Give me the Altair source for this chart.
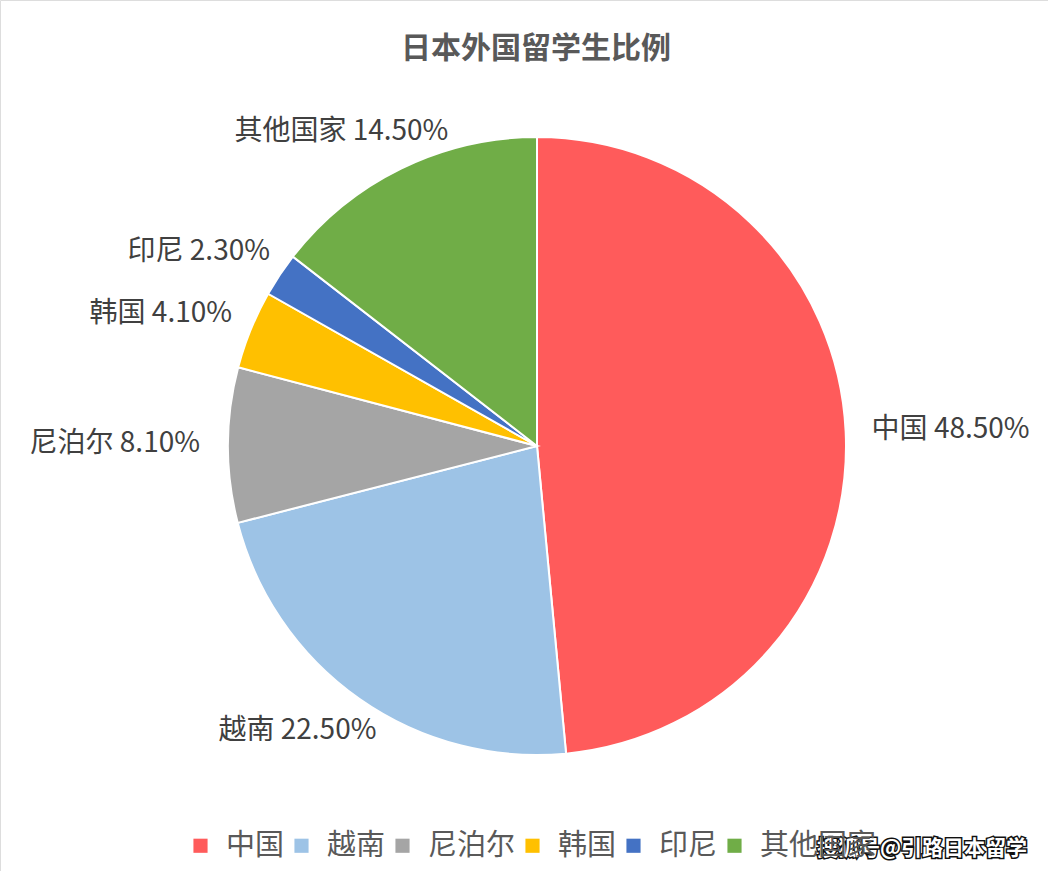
import altair as alt
import pandas as pd

categories = ["中国", "越南", "尼泊尔", "韩国", "印尼", "其他国家"]
values = [48.5, 22.5, 8.1, 4.1, 2.3, 14.5]
colors = ["#FF5B5B", "#9DC3E6", "#A5A5A5", "#FFC000", "#4472C4", "#70AD47"]

title_text = "日本外国留学生比例"
watermark = "搜狐号@引路日本留学"

df = pd.DataFrame({"cat": categories, "value": values, "order": list(range(len(categories)))})

FONT = "Noto Sans CJK SC"
CX, CY, R = 537, 446, 309
LABEL_R = 340

# label style: align, dx, dy
label_style = {
    "中国": ("left", -5, 0),
    "越南": ("right", 35, 7),
    "尼泊尔": ("right", 3, -1),
    "韩国": ("right", 10, -4),
    "印尼": ("right", 16, -6),
    "其他国家": ("right", 61, -9),
}

theta_scale = alt.Scale(domain=[0, 100])
color_scale = alt.Scale(domain=categories, range=colors)

base = alt.Chart(df)

pie = base.mark_arc(outerRadius=R, stroke="white", strokeWidth=2).encode(
    theta=alt.Theta("value:Q", stack=True, scale=theta_scale),
    order=alt.Order("order:Q"),
    color=alt.Color(
        "cat:N",
        scale=color_scale,
        sort=categories,
        legend=alt.Legend(
            title=None,
            orient="none",
            direction="horizontal",
            columns=6,
            legendX=186,
            legendY=831,
            symbolType="square",
            symbolSize=200,
            symbolStrokeWidth=0,
            labelFontSize=29,
            labelFont=FONT,
            labelColor="#595959",
            labelOffset=11,
            columnPadding=2,
            labelLimit=300,
        ),
    ),
    x=alt.value(CX),
    y=alt.value(CY),
)

label_base = (
    base.transform_window(cum="sum(value)", sort=[alt.SortField("order")], frame=[None, 0])
    .transform_calculate(
        mid="datum.cum - datum.value / 2",
        label="datum.cat + ' ' + format(datum.value, '.2f') + '%'",
    )
)

layers = [pie]
for cat in categories:
    align, dx, dy = label_style[cat]
    layers.append(
        label_base.transform_filter(alt.datum.cat == cat)
        .mark_text(
            radius=LABEL_R,
            align=align,
            baseline="middle",
            dx=dx,
            dy=dy,
            fontSize=28,
            font=FONT,
            color="#404040",
        )
        .encode(
            theta=alt.Theta("mid:Q", scale=theta_scale),
            text="label:N",
            x=alt.value(CX),
            y=alt.value(CY),
        )
    )

wm_df = pd.DataFrame({"t": [watermark]})
wm_shadow = alt.Chart(wm_df).mark_text(
    fontSize=21, font=FONT, fontWeight="bold", color="#111111",
    stroke="#111111", strokeWidth=3, align="center", baseline="middle",
).encode(text="t:N", x=alt.value(922), y=alt.value(849))
wm_front = alt.Chart(wm_df).mark_text(
    fontSize=21, font=FONT, fontWeight="bold", color="white",
    align="center", baseline="middle",
).encode(text="t:N", x=alt.value(922), y=alt.value(849))

chart = (
    alt.layer(*layers, wm_shadow, wm_front)
    .properties(
        width=1048,
        height=871,
        autosize=alt.AutoSizeParams(type="none"),
        padding={"left": 0, "top": 0, "right": 0, "bottom": 0},
        title=alt.TitleParams(
            text=title_text,
            fontSize=30,
            font=FONT,
            fontWeight="bold",
            color="#595959",
            anchor="middle",
            offset=-64,
            dx=12,
        ),
    )
    .configure_view(stroke=None)
    .configure(background="white")
)

chart.save("out.html", embed_options={"renderer": "svg", "actions": False})
